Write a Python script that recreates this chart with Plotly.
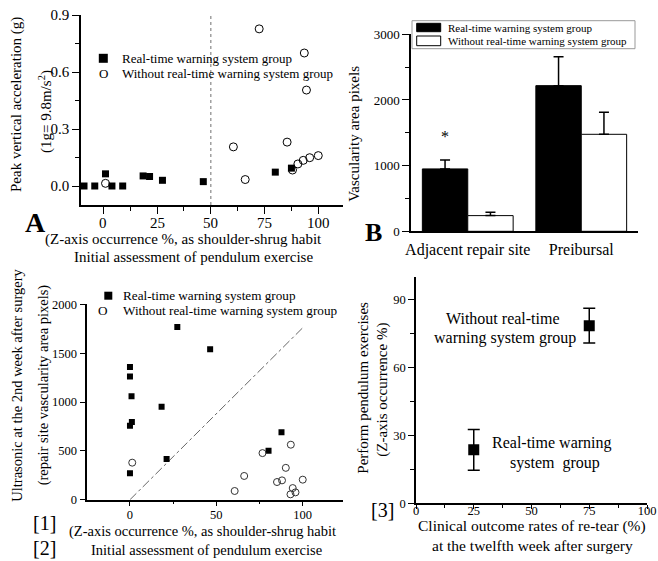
import plotly.graph_objects as go

W, H = 658, 561
FONT = "Liberation Serif, Times New Roman, serif"

# ---------------- data ----------------
# Panel A
A_rt_x = [-9, -4, 1, 4, 9, 18.5, 21.5, 27.5, 46.5, 80, 87.5]
A_rt_y = [0.0, 0.0, 0.064, 0.0, 0.0, 0.053, 0.05, 0.03, 0.023, 0.073, 0.094]
A_wo_x = [1, 60.5, 66, 72.5, 85.5, 88, 90.5, 93, 93.5, 94.5, 96, 100]
A_wo_y = [0.014, 0.206, 0.034, 0.827, 0.231, 0.084, 0.116, 0.135, 0.70, 0.505, 0.149, 0.16]
A_cut = [50, 50]
A_cut_y = [-0.1, 0.9]
A_xticks = [0, 25, 50, 75, 100]

# Panel B
B_cats = ["Adjacent repair site", "Preibursal"]
B_rt = [950, 2218]
B_rt_err = [136, 442]
B_wo = [239, 1477]
B_wo_err = [50, 335]

# Panel [1]
P1_rt_x = [27.4, 46.4, 0, 0, 0.9, 18.3, 1.1, 0, 21.2, 0, 87.7, 80.2]
P1_rt_y = [1768, 1540, 1357, 1260, 1058, 952, 795, 756, 417, 270, 690, 502]
P1_wo_x = [1.3, 60.6, 66.1, 76.7, 85.1, 88, 90.2, 93.1, 92.9, 94.2, 95.8, 100]
P1_wo_y = [379, 89, 243, 477, 181, 198, 326, 563, 55, 119, 75, 205]
P1_line_x = [0, 100]
P1_line_y = [0, 1760]

# Panel [3]
P3_x = [25, 75]
P3_y = [23.6, 78.4]
P3_err = [9, 7.7]

# ---------------- helpers ----------------
def fx(p):
    return p / W

def fy(p):
    return 1 - p / H

fig = go.Figure()

# Panel A
fig.add_trace(go.Scatter(x=A_cut, y=A_cut_y, mode="lines", xaxis="x", yaxis="y",
                         line=dict(color="#888888", width=1.2, dash="dot"), showlegend=False))
fig.add_trace(go.Scatter(x=A_rt_x, y=A_rt_y, mode="markers", xaxis="x", yaxis="y",
                         marker=dict(symbol="square", size=7, color="black"), showlegend=False))
fig.add_trace(go.Scatter(x=A_wo_x, y=A_wo_y, mode="markers", xaxis="x", yaxis="y",
                         marker=dict(symbol="circle-open", size=8, color="black", line=dict(width=1)),
                         showlegend=False))

# Panel B
err_common = dict(type="data", symmetric=False, arrayminus=[0, 0], color="black", thickness=1.5, width=5)
fig.add_trace(go.Bar(x=[0, 1], y=B_rt, xaxis="x2", yaxis="y2", offsetgroup="rt",
                     marker=dict(color="black", line=dict(color="black", width=1)),
                     error_y=dict(array=B_rt_err, **err_common), showlegend=False))
fig.add_trace(go.Bar(x=[0, 1], y=B_wo, xaxis="x2", yaxis="y2", offsetgroup="wo",
                     marker=dict(color="white", line=dict(color="black", width=1)),
                     error_y=dict(array=B_wo_err, **err_common), showlegend=False))

# Panel [1]
fig.add_trace(go.Scatter(x=P1_line_x, y=P1_line_y, mode="lines", xaxis="x3", yaxis="y3",
                         line=dict(color="#666666", width=1, dash="dashdot"), showlegend=False))
fig.add_trace(go.Scatter(x=P1_rt_x, y=P1_rt_y, mode="markers", xaxis="x3", yaxis="y3",
                         marker=dict(symbol="square", size=6, color="black"), showlegend=False))
fig.add_trace(go.Scatter(x=P1_wo_x, y=P1_wo_y, mode="markers", xaxis="x3", yaxis="y3",
                         marker=dict(symbol="circle-open", size=7, color="#333333", line=dict(width=1)),
                         showlegend=False))

# Panel [3]
fig.add_trace(go.Scatter(x=P3_x, y=P3_y, mode="markers", xaxis="x4", yaxis="y4",
                         marker=dict(symbol="square", size=11, color="black"),
                         error_y=dict(type="data", array=P3_err, color="black", thickness=1.5, width=6),
                         showlegend=False))

def axis(size, **kw):
    d = dict(showline=True, linecolor="black", linewidth=1.5, showgrid=False, zeroline=False,
             ticks="outside", tickcolor="black", tickwidth=1.2, automargin=False,
             tickfont=dict(family=FONT, size=size, color="black"))
    d.update(kw)
    return d

def minor(dt, length):
    return dict(ticks="outside", ticklen=length, dtick=dt, tick0=0, tickcolor="black", tickwidth=1.2)

fig.update_layout(
    template="none",
    width=W, height=H,
    margin=dict(l=0, r=0, t=0, b=0, autoexpand=False),
    paper_bgcolor="white", plot_bgcolor="white",
    barmode="group", bargap=0.2, bargroupgap=0,
    font=dict(family=FONT, color="black"),
    showlegend=False,
    # Panel A (tick labels placed below via annotations on the x scale)
    xaxis=axis(15, domain=[fx(81), fx(343)], range=[-10.4, 111.5], anchor="y",
               tickmode="array", tickvals=A_xticks, ticklen=7, showticklabels=False,
               minor=minor(12.5, 4)),
    yaxis=axis(15, domain=[fy(205), fy(15)], range=[-0.1, 0.9], anchor="x",
               tickmode="linear", tick0=0, dtick=0.3, tickformat=".1f", ticklen=7,
               minor=minor(0.15, 4)),
    # Panel B
    xaxis2=axis(16, domain=[fx(411), fx(638)], range=[-0.5, 1.5], anchor="y2",
                tickmode="array", tickvals=[0, 1], ticktext=B_cats, ticks="", ticklabelstandoff=3),
    yaxis2=axis(13, domain=[fy(231.3), fy(34.3)], range=[0, 3000], anchor="x2",
                tickmode="linear", tick0=0, dtick=1000, ticklen=7,
                minor=minor(500, 4)),
    # Panel [1]
    xaxis3=axis(12.5, domain=[fx(87.3), fx(343)], range=[-24.7, 123.3], anchor="y3",
                tickmode="linear", tick0=0, dtick=50, ticklen=5, ticklabelstandoff=-2,
                minor=minor(25, 3)),
    yaxis3=axis(12.5, domain=[fy(499.7), fy(304.3)], range=[0, 2000], anchor="x3",
                tickmode="linear", tick0=0, dtick=500, ticklen=6),
    # Panel [3]
    xaxis4=axis(12.5, domain=[fx(416), fx(647)], range=[0, 100], anchor="y4",
                tickmode="linear", tick0=0, dtick=25, ticklen=4, ticklabelstandoff=-9,
                minor=minor(12.5, 3)),
    yaxis4=axis(12.5, domain=[fy(503.3), fy(276.7)], range=[0, 100], anchor="x4",
                tickmode="linear", tick0=0, dtick=30, ticklen=6,
                minor=minor(15, 4)),
)

shapes = []
# legend squares (A and [1])
for cx, cy, s in [(103.3, 58.3, 9), (108.3, 295.7, 8)]:
    shapes.append(dict(type="rect", xref="paper", yref="paper",
                       x0=fx(cx - s / 2), x1=fx(cx + s / 2), y0=fy(cy + s / 2), y1=fy(cy - s / 2),
                       fillcolor="black", line=dict(width=0)))
# legend box B
shapes.append(dict(type="rect", xref="paper", yref="paper", x0=fx(412), x1=fx(635), y0=fy(48.7), y1=fy(20.7),
                   fillcolor="rgba(0,0,0,0)", line=dict(color="#999999", width=1)))
shapes.append(dict(type="rect", xref="paper", yref="paper", x0=fx(416.7), x1=fx(440.7), y0=fy(31.7), y1=fy(23.3),
                   fillcolor="black", line=dict(color="black", width=1)))
shapes.append(dict(type="rect", xref="paper", yref="paper", x0=fx(416.7), x1=fx(440.7), y0=fy(45.7), y1=fy(36),
                   fillcolor="white", line=dict(color="black", width=1)))
fig.update_layout(shapes=shapes)

ann = []

def txt(text, x, y, size, xanchor="center", angle=0, bold=False):
    t = f"<b>{text}</b>" if bold else text
    ann.append(dict(text=t, x=fx(x), y=fy(y), xref="paper", yref="paper", showarrow=False,
                    xanchor=xanchor, yanchor="middle", textangle=angle,
                    font=dict(family=FONT, size=size, color="black")))

# Panel A x tick labels on the x scale
for v in A_xticks:
    ann.append(dict(text=str(v), x=v, y=fy(223), xref="x", yref="paper", showarrow=False,
                    xanchor="center", yanchor="middle", font=dict(family=FONT, size=15, color="black")))

# Panel A
txt("Real-time warning system group", 120, 58.3, 13, "left")
txt("O", 103.3, 73.3, 13)
txt("Without real-time warning system group", 120, 73.3, 13, "left")
txt("Peak vertical acceleration (g)", 17, 105, 15, angle=-90)
txt("(1g= 9.8m/s<sup>2</sup>)", 45, 112, 15, angle=-90)
txt("(Z-axis occurrence %, as shoulder-shrug habit", 43, 239, 15, "left")
txt("Initial assessment of pendulum exercise", 193, 256.5, 15)
txt("A", 35, 223, 28, bold=True)

# Panel B
txt("Real-time warning system group", 446, 27.5, 11, "left")
txt("Without real-time warning system group", 446, 41, 11, "left")
txt("Vascularity area pixels", 353.3, 133.5, 15, angle=-90)
txt("B", 373.5, 232.5, 26, bold=True)
ann.append(dict(text="*", x=-0.2, y=1441, xref="x2", yref="y2", showarrow=False,
                xanchor="center", yanchor="middle", font=dict(family=FONT, size=16, color="black")))

# Panel [1]
txt("Real-time warning system group", 121, 295.7, 13.2, "left")
txt("O", 102.7, 310, 13.2)
txt("Without real-time warning system group", 121, 310, 13.2, "left")
txt("Ultrasonic at the 2nd week after surgery", 16.7, 385, 14.5, angle=-90)
txt("(repair site vascularity area pixels)", 43.3, 385, 14.5, angle=-90)
txt("(Z-axis occurrence %, as shoulder-shrug habit", 66.7, 531.7, 14.5, "left")
txt("Initial assessment of pendulum exercise", 206.7, 550, 14.5)
txt("[1]", 44, 523, 20)
txt("[2]", 44, 548, 20)

# Panel [3]
txt("Without real-time", 503.3, 318.3, 16)
txt("warning system group", 505, 338.3, 16)
txt("Real-time warning", 552.3, 443.3, 16)
txt("system&nbsp;&nbsp;group", 555, 463.3, 16)
txt("Perform pendulum exercises", 362.7, 388, 15, angle=-90)
txt("(Z-axis occurrence %)", 381.7, 390, 15, angle=-90)
txt("Clinical outcome rates of re-tear (%)", 531.5, 526, 15.5)
txt("at the twelfth week after surgery", 532.5, 545, 15.5)
txt("[3]", 382, 510, 20)

fig.update_layout(annotations=ann)
fig.write_html("out.html", config={"displayModeBar": False},
               post_script="document.body.style.margin='0px';document.body.style.overflow='hidden';")
